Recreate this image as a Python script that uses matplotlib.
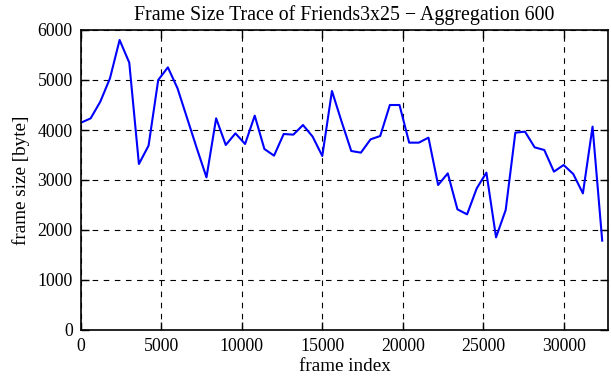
import matplotlib
matplotlib.use('Agg')
import matplotlib.pyplot as plt
import numpy as np

# aggregated frame sizes, one point every 600 frames
agg_step = 600
frame_size = [4146, 4233, 4567, 5033, 5800, 5347, 3320, 3687, 5000, 5253,
              4833, 4233, 3633, 3053, 4233, 3700, 3933, 3720, 4287, 3620,
              3487, 3920, 3907, 4100, 3867, 3480, 4780, 4167, 3580, 3547,
              3813, 3880, 4500, 4500, 3747, 3747, 3847, 2900, 3133, 2413,
              2313, 2833, 3147, 1853, 2400, 3947, 3967, 3653, 3600, 3167,
              3300, 3120, 2733, 4067, 1787]
frame_index = np.arange(len(frame_size)) * agg_step

x_ticks = [0, 5000, 10000, 15000, 20000, 25000, 30000]
y_ticks = [0, 1000, 2000, 3000, 4000, 5000, 6000]

plt.rcParams['font.family'] = ['Liberation Serif', 'DejaVu Serif']
plt.rcParams['font.size'] = 12.8

fig = plt.figure(figsize=(6.11, 3.80), dpi=100)
ax = fig.add_axes([81/611, 50/380, 527/611, 300/380])

ax.plot(frame_index, frame_size, color='#0000ff', lw=1.5)

ax.set_xlim(0, 32760)
ax.set_ylim(0, 6000)
ax.set_xticks(x_ticks)
ax.set_yticks(y_ticks)
ax.grid(True, color='black', linestyle=(0, (5, 5)), lw=0.8)
ax.tick_params(direction='in', length=6, width=1, top=True, right=True, pad=6)
for s in ax.spines.values():
    s.set_linewidth(1.2)

ax.set_title('Frame Size Trace of Friends3x25 \u2212 Aggregation 600', fontsize=14.3, pad=7)
ax.set_xlabel('frame index', fontsize=13.8, labelpad=2)
ax.set_ylabel('frame size [byte]', fontsize=13.8, labelpad=5)

plt.savefig('out.png', dpi=100)
